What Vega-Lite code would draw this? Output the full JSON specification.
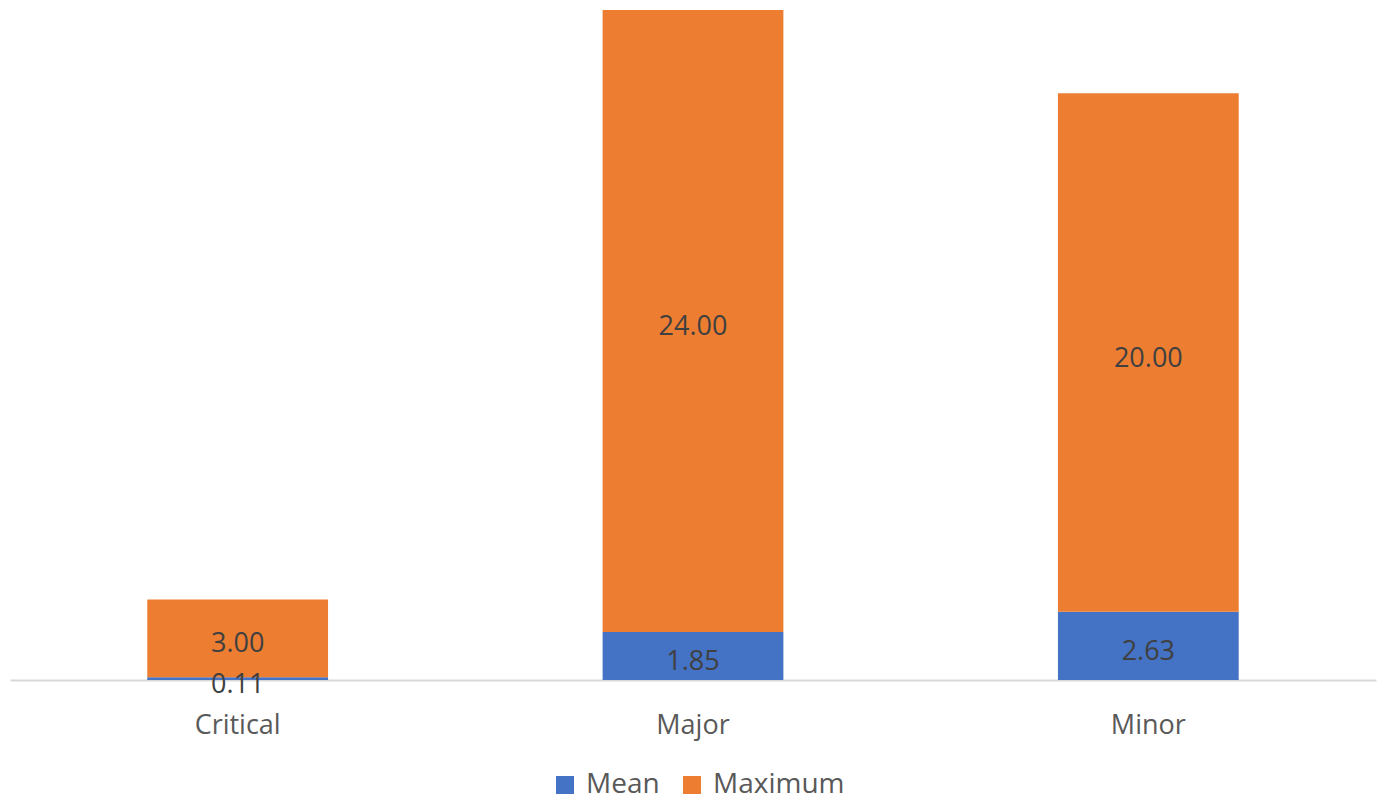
{
  "$schema": "https://vega.github.io/schema/vega-lite/v6.json",
  "width": 1366,
  "height": 674,
  "autosize": "none",
  "padding": {"left": 10, "top": 6, "right": 4, "bottom": 121},
  "background": "#ffffff",
  "config": {
    "view": {"stroke": null},
    "font": "Open Sans"
  },
  "data": {
    "values": [
      {"category": "Critical", "series": "Mean", "order": 1, "value": 0.11},
      {"category": "Critical", "series": "Maximum", "order": 2, "value": 3.00},
      {"category": "Major", "series": "Mean", "order": 1, "value": 1.85},
      {"category": "Major", "series": "Maximum", "order": 2, "value": 24.00},
      {"category": "Minor", "series": "Mean", "order": 1, "value": 2.63},
      {"category": "Minor", "series": "Maximum", "order": 2, "value": 20.00}
    ]
  },
  "transform": [
    {"stack": "value", "groupby": ["category"], "sort": [{"field": "order"}], "as": ["y0", "y1"]},
    {"calculate": "(datum.y0 + datum.y1) / 2", "as": "ymid"}
  ],
  "encoding": {
    "x": {
      "field": "category",
      "type": "nominal",
      "sort": ["Critical", "Major", "Minor"],
      "scale": {"paddingInner": 0.603, "paddingOuter": 0.3015},
      "axis": {
        "title": null,
        "labelAngle": 0,
        "labelFontSize": 27,
        "labelColor": "#595959",
        "labelPadding": 32,
        "ticks": false,
        "domainColor": "#d9d9d9",
        "domainWidth": 2,
        "grid": false
      }
    }
  },
  "layer": [
    {
      "mark": {"type": "bar"},
      "encoding": {
        "y": {
          "field": "y0",
          "type": "quantitative",
          "scale": {"domain": [0, 26], "nice": false},
          "axis": null
        },
        "y2": {"field": "y1"},
        "color": {
          "field": "series",
          "type": "nominal",
          "scale": {"domain": ["Mean", "Maximum"], "range": ["#4472C4", "#ED7D31"]},
          "legend": {
            "title": null,
            "orient": "none",
            "direction": "horizontal",
            "legendX": 541,
            "legendY": 765,
            "symbolType": "square",
            "symbolSize": 324,
            "symbolStrokeWidth": 0,
            "symbolOpacity": 1,
            "labelFontSize": 28,
            "labelColor": "#595959",
            "labelOffset": 7,
            "columnPadding": 18
          }
        }
      }
    },
    {
      "mark": {"type": "text", "fontSize": 27, "color": "#404040", "baseline": "middle", "dy": 6},
      "encoding": {
        "y": {"field": "ymid", "type": "quantitative"},
        "text": {"field": "value", "type": "quantitative", "format": ".2f"}
      }
    }
  ]
}
